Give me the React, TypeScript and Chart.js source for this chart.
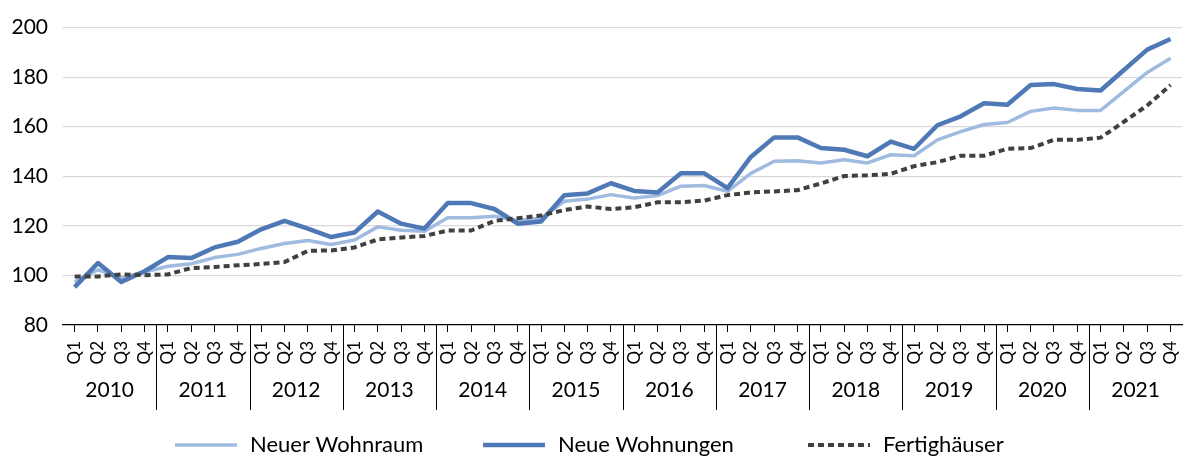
import React, { useEffect, useRef } from 'react';
import { Chart, registerables } from 'chart.js';

Chart.register(...registerables);

const years = ['2010', '2011', '2012', '2013', '2014', '2015', '2016', '2017', '2018', '2019', '2020', '2021'];
const quarters = ['Q1', 'Q2', 'Q3', 'Q4'];

const neuerWohnraum = [
  97.4, 102.3, 99.0, 101.4,
  103.7, 104.7, 107.2, 108.5,
  110.9, 112.9, 114.1, 112.5,
  114.3, 119.6, 118.2, 117.8,
  123.3, 123.3, 123.9, 122.2,
  123.1, 129.9, 130.8, 132.6,
  131.2, 132.2, 136.0, 136.3,
  133.9, 141.2, 146.1, 146.3,
  145.4, 146.7, 145.4, 148.7,
  148.3, 154.7, 158.0, 160.9,
  161.7, 166.2, 167.6, 166.6,
  166.6, 174.3, 181.9, 187.6,
];

const neueWohnungen = [
  95.3, 105.0, 97.4, 101.7,
  107.4, 107.0, 111.3, 113.6,
  118.6, 122.0, 118.9, 115.5,
  117.3, 125.8, 120.9, 118.9,
  129.2, 129.2, 126.8, 120.9,
  121.8, 132.4, 133.1, 137.2,
  134.1, 133.5, 141.2, 141.2,
  135.2, 147.8, 155.7, 155.7,
  151.4, 150.7, 148.1, 154.0,
  151.1, 160.6, 164.2, 169.5,
  168.9, 176.8, 177.2, 175.2,
  174.6, 182.9, 191.1, 195.4,
];

const fertighaeuser = [
  99.6, 99.6, 100.4, 100.1,
  100.4, 103.0, 103.4, 104.1,
  104.6, 105.4, 109.9, 110.1,
  111.3, 114.5, 115.3, 115.9,
  118.1, 118.1, 122.0, 123.1,
  124.2, 126.4, 127.8, 126.8,
  127.5, 129.5, 129.5, 130.2,
  132.4, 133.5, 133.9, 134.4,
  137.1, 140.1, 140.4, 141.0,
  144.1, 145.7, 148.3, 148.3,
  151.1, 151.4, 154.7, 154.7,
  155.6, 162.0, 168.6, 176.8,
];

const seriesNames = ['Neuer Wohnraum', 'Neue Wohnungen', 'Fertighäuser'];
const yTicks = { min: 80, max: 200, step: 20 };

const FONT = 'Lato, "Open Sans", "DejaVu Sans", sans-serif';

const labels: string[] = [];
years.forEach(() => quarters.forEach((q) => labels.push(q)));

const legendStartX = [175, 483, 808];

const groupPlugin = {
  id: 'yearGroups',
  afterDraw(chart: any) {
    const x = chart.scales.x;
    const ctx = chart.ctx as CanvasRenderingContext2D;
    const top = x.top;
    ctx.save();
    ctx.strokeStyle = '#000';
    ctx.lineWidth = 1;
    ctx.fillStyle = '#000';
    ctx.font = `21px ${FONT}`;
    ctx.textAlign = 'center';
    ctx.textBaseline = 'middle';
    years.forEach((yr, i) => {
      const first = i * 4;
      const last = i * 4 + 3;
      const left = i === 0 ? x.left : (x.getPixelForValue(first - 1) + x.getPixelForValue(first)) / 2;
      const right = i === years.length - 1 ? x.right : (x.getPixelForValue(last) + x.getPixelForValue(last + 1)) / 2;
      ctx.fillText(yr, (left + right) / 2, top + 65);
      if (i > 0) {
        const px = Math.round(left) + 0.5;
        ctx.beginPath();
        ctx.moveTo(px, top);
        ctx.lineTo(px, top + 85);
        ctx.stroke();
      }
    });

    // legend
    const ly = 445;
    chart.data.datasets.forEach((ds: any, i: number) => {
      const sx = legendStartX[i];
      ctx.save();
      ctx.strokeStyle = ds.borderColor;
      ctx.lineWidth = ds.borderWidth;
      ctx.setLineDash(ds.borderDash || []);
      ctx.lineCap = 'butt';
      ctx.beginPath();
      ctx.moveTo(sx, ly);
      ctx.lineTo(sx + 62, ly);
      ctx.stroke();
      ctx.restore();
      ctx.fillStyle = '#000';
      ctx.font = `22px ${FONT}`;
      ctx.textAlign = 'left';
      ctx.textBaseline = 'middle';
      ctx.fillText(ds.label, sx + 75, ly);
    });
    ctx.restore();
  },
};

export default function App() {
  const canvasRef = useRef<HTMLCanvasElement | null>(null);

  useEffect(() => {
    if (!canvasRef.current) return;
    const chart = new Chart(canvasRef.current, {
      type: 'line',
      data: {
        labels,
        datasets: [
          {
            label: seriesNames[0],
            data: neuerWohnraum,
            borderColor: '#a0bbe0',
            backgroundColor: '#a0bbe0',
            borderWidth: 3.5,
            pointRadius: 0,
            tension: 0,
            borderJoinStyle: 'round',
            order: 3,
          },
          {
            label: seriesNames[1],
            data: neueWohnungen,
            borderColor: '#4e79b6',
            backgroundColor: '#4e79b6',
            borderWidth: 4.5,
            pointRadius: 0,
            tension: 0,
            borderJoinStyle: 'round',
            order: 2,
          },
          {
            label: seriesNames[2],
            data: fertighaeuser,
            borderColor: '#404040',
            backgroundColor: '#404040',
            borderWidth: 4,
            borderDash: [6, 4],
            pointRadius: 0,
            tension: 0,
            order: 1,
          },
        ],
      },
      options: {
        animation: false,
        responsive: true,
        maintainAspectRatio: false,
        layout: { padding: { top: 23, right: 2, left: 0, bottom: 42 } },
        plugins: {
          legend: { display: false },
          tooltip: { enabled: false },
        },
        scales: {
          x: {
            type: 'category',
            offset: true,
            afterFit: (s: any) => {
              s.height = 90;
            },
            grid: {
              display: true,
              drawOnChartArea: false,
              drawTicks: true,
              tickLength: 7,
              offset: false,
              color: '#000',
              lineWidth: 1,
            },
            border: { display: true, color: '#000', width: 1.3 },
            ticks: {
              autoSkip: false,
              minRotation: 90,
              maxRotation: 90,
              padding: 9,
              color: '#000',
              font: { family: FONT, size: 17 },
            },
          },
          y: {
            min: yTicks.min,
            max: yTicks.max,
            afterFit: (s: any) => {
              s.width = 63;
            },
            grid: {
              drawTicks: false,
              color: (c: any) => (c.tick && c.tick.value === yTicks.min ? 'rgba(0,0,0,0)' : '#d9d9d9'),
              lineWidth: 1.3,
            },
            border: { display: false },
            ticks: {
              stepSize: yTicks.step,
              padding: 15,
              color: '#000',
              font: { family: FONT, size: 21 },
            },
          },
        },
      },
      plugins: [groupPlugin],
    });
    return () => chart.destroy();
  }, []);

  return (
    <div style={{ position: 'absolute', left: 0, top: 0, width: 1200, height: 457, background: '#fff' }}>
      <canvas ref={canvasRef} />
    </div>
  );
}
